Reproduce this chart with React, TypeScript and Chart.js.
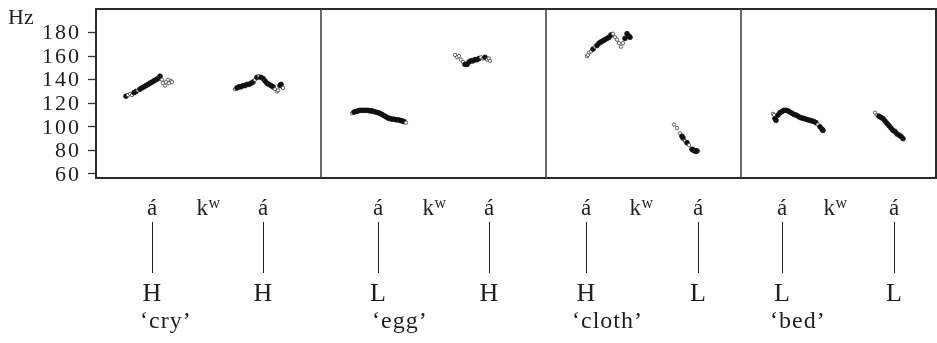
import { useEffect, useRef } from "react";
import { Chart, registerables } from "chart.js";

Chart.register(...registerables);

// ---- Data (x in time units along the joined panels, y in Hz) ----
const panelBounds = [225, 450, 645];
const yTicks = [60, 80, 100, 120, 140, 160, 180];

const cryV1T = [30, 32, 34, 36, 38, 40, 42, 44, 46, 48, 50, 52, 54, 56, 58, 60, 62, 64, 66, 67, 69, 70, 72, 73, 75, 76];
const cryV1Hz = [126, 127, 128, 127, 129, 130, 131, 132, 133, 134, 135, 136, 137, 138, 139, 140, 141, 143, 140, 137, 135, 138, 140, 137, 139, 138];
const cryV1Open = [0, 1, 1, 1, 0, 0, 1, 0, 0, 0, 0, 0, 0, 0, 0, 0, 0, 0, 1, 1, 1, 1, 1, 1, 1, 1];

const cryV2T = [139, 141, 143, 145, 147, 149, 151, 153, 155, 157, 159, 161, 163, 165, 167, 169, 171, 173, 175, 177, 179, 181, 182, 184, 185, 187];
const cryV2Hz = [132, 133, 134, 134, 135, 135, 136, 136, 137, 138, 140, 142, 143, 142, 141, 139, 137, 136, 135, 134, 132, 130, 131, 135, 136, 133];
const cryV2Open = [1, 0, 0, 0, 0, 0, 0, 0, 0, 0, 1, 0, 1, 0, 0, 0, 0, 0, 0, 0, 1, 1, 1, 0, 0, 1];

const eggV1T = [256, 258, 260, 262, 264, 266, 268, 270, 272, 274, 276, 278, 280, 282, 284, 286, 288, 290, 292, 294, 296, 298, 300, 302, 304, 306, 308, 310];
const eggV1Hz = [111.5, 112.5, 113, 113.5, 114, 114, 114, 114, 114, 113.5, 113.5, 113, 112.5, 112, 111.5, 110.5, 109.5, 108.5, 107.5, 107, 106.5, 106.5, 106, 106, 105.5, 105, 104.5, 103.5];
const eggV1Open = [1, 0, 0, 0, 0, 0, 0, 0, 0, 0, 0, 0, 0, 0, 0, 0, 0, 0, 0, 0, 0, 0, 0, 0, 0, 0, 0, 1];

const eggV2T = [359, 361, 363, 365, 367, 369, 371, 373, 375, 377, 379, 381, 383, 385, 387, 389, 391, 393, 394];
const eggV2Hz = [161, 159, 160, 157, 155, 153, 153, 155, 156, 156, 157, 157, 158, 159, 158, 159, 157, 158, 156];
const eggV2Open = [1, 1, 1, 1, 1, 0, 0, 0, 0, 0, 0, 0, 0, 1, 1, 0, 1, 1, 1];

const clothV1T = [491, 492, 493, 495, 497, 499, 501, 503, 505, 507, 509, 511, 513, 515, 517, 519, 521, 523, 525, 527, 529, 531, 533, 534];
const clothV1Hz = [160, 161, 163, 164, 166, 168, 169, 171, 172, 173, 174, 175, 176, 178, 179, 176, 174, 171, 168, 171, 175, 179, 177, 176];
const clothV1Open = [1, 1, 1, 1, 0, 1, 0, 0, 0, 0, 0, 0, 0, 0, 1, 1, 1, 1, 1, 1, 0, 0, 0, 0];

const clothV2T = [578, 581, 584, 586, 587, 589, 591, 593, 596, 597, 598, 599, 600, 601];
const clothV2Hz = [102, 99, 94.5, 92, 90.5, 88, 86.5, 84.5, 81, 80.5, 80, 79.5, 79.5, 79.5];
const clothV2Open = [1, 1, 1, 0, 0, 1, 0, 1, 0, 0, 0, 0, 0, 0];

const bedV1T = [677, 678, 679, 680, 682, 684, 686, 688, 690, 692, 694, 696, 698, 700, 702, 704, 706, 708, 710, 712, 714, 716, 718, 720, 722, 724, 726, 727];
const bedV1Hz = [111, 110, 107, 105.5, 110, 112, 113, 114, 114, 113.5, 112.5, 111.5, 110.5, 110, 109, 108, 107.5, 107, 106.5, 106, 105.5, 105, 104.5, 103.5, 102, 100, 98, 97];
const bedV1Open = [1, 1, 0, 0, 0, 0, 0, 0, 0, 0, 0, 0, 0, 0, 0, 0, 0, 0, 0, 0, 0, 0, 0, 0, 1, 0, 0, 0];

const bedV2T = [779, 781, 783, 785, 787, 789, 791, 793, 795, 797, 799, 801, 803, 805, 807];
const bedV2Hz = [112, 110, 109, 108, 107, 105, 103, 101, 99, 97, 96, 94, 93, 92, 90];
const bedV2Open = [1, 1, 0, 0, 0, 0, 0, 0, 0, 0, 0, 0, 0, 0, 0];

// ---- Annotation rows ----
const vowelX = [56, 167, 282, 393, 490, 602, 686, 798];
const vowelLabels = ["á", "á", "á", "á", "á", "á", "á", "á"];
const toneLabels = ["H", "H", "L", "H", "H", "L", "L", "L"];
const consonantX = [112, 338, 545, 739];
const glossX = [44, 276, 476, 674];
const glossLabels = ["‘cry’", "‘egg’", "‘cloth’", "‘bed’"];

const SERIF = "'Liberation Serif', 'DejaVu Serif', serif";
const INK = "#1e1e1e";

function segment(t: number[], hz: number[], open: number[]) {
  return {
    data: t.map((x, i) => ({ x, y: hz[i] })),
    showLine: false,
    pointStyle: "circle",
    pointRadius: open.map((o) => (o ? 1.7 : 2.4)),
    pointBackgroundColor: open.map((o) => (o ? "#ffffff" : "#111111")),
    pointBorderColor: open.map((o) => (o ? "#555555" : "#111111")),
    pointBorderWidth: open.map((o) => (o ? 0.9 : 0.8)),
  };
}

const framePlugin = {
  id: "framePlugin",
  afterDatasetsDraw(chart: any) {
    const { ctx, chartArea: a, scales } = chart;
    const xs = scales.x;
    ctx.save();
    ctx.strokeStyle = "#2a2a2a";
    ctx.lineWidth = 2;
    ctx.strokeRect(a.left, a.top, a.right - a.left, a.bottom - a.top);
    ctx.strokeStyle = "#444";
    ctx.lineWidth = 1.6;
    panelBounds.forEach((b) => {
      const px = xs.getPixelForValue(b);
      ctx.beginPath();
      ctx.moveTo(px, a.top);
      ctx.lineTo(px, a.bottom);
      ctx.stroke();
    });
    ctx.restore();
  },
  afterDraw(chart: any) {
    const { ctx, scales } = chart;
    const xs = scales.x;
    const ys = scales.y;
    ctx.save();
    ctx.fillStyle = INK;
    ctx.strokeStyle = INK;
    // Hz unit label
    ctx.font = `22px ${SERIF}`;
    ctx.textAlign = "left";
    ctx.textBaseline = "alphabetic";
    ctx.fillText("Hz", 8, 24);

    // y tick labels (positions from the y scale)
    ctx.save();
    ctx.font = `22px ${SERIF}`;
    (ctx as any).letterSpacing = "2px";
    ctx.textAlign = "right";
    ctx.textBaseline = "middle";
    yTicks.forEach((v) => {
      ctx.fillText(String(v), ys.left + ys.width - 15, ys.getPixelForValue(v) + 1);
    });
    ctx.restore();

    // vowels, association lines, tones
    vowelX.forEach((v, i) => {
      const px = xs.getPixelForValue(v);
      ctx.textAlign = "center";
      ctx.font = `23px ${SERIF}`;
      ctx.fillText(vowelLabels[i], px, 215);
      ctx.lineWidth = 1;
      ctx.beginPath();
      ctx.moveTo(Math.round(px) + 0.5, 222);
      ctx.lineTo(Math.round(px) + 0.5, 273);
      ctx.stroke();
      ctx.font = `26px ${SERIF}`;
      ctx.fillText(toneLabels[i], px, 301);
    });

    // labialised velar k + superscript w
    consonantX.forEach((c) => {
      const px = xs.getPixelForValue(c);
      ctx.font = `23px ${SERIF}`;
      const wk = ctx.measureText("k").width;
      ctx.font = `16px ${SERIF}`;
      const ww = ctx.measureText("w").width;
      const start = px - (wk + ww) / 2;
      ctx.textAlign = "left";
      ctx.font = `23px ${SERIF}`;
      ctx.fillText("k", start, 215);
      ctx.font = `16px ${SERIF}`;
      ctx.fillText("w", start + wk + 0.5, 208);
    });

    // glosses
    ctx.font = `24px ${SERIF}`;
    ctx.textAlign = "left";
    (ctx as any).letterSpacing = "1px";
    glossX.forEach((g, i) => {
      const px = xs.getPixelForValue(g);
      ctx.fillText(glossLabels[i], px, 328);
    });
    ctx.restore();
  },
};

export default function App() {
  const ref = useRef<HTMLCanvasElement | null>(null);
  useEffect(() => {
    if (!ref.current) return;
    const chart = new Chart(ref.current, {
      type: "scatter",
      data: {
        datasets: [
          segment(cryV1T, cryV1Hz, cryV1Open),
          segment(cryV2T, cryV2Hz, cryV2Open),
          segment(eggV1T, eggV1Hz, eggV1Open),
          segment(eggV2T, eggV2Hz, eggV2Open),
          segment(clothV1T, clothV1Hz, clothV1Open),
          segment(clothV2T, clothV2Hz, clothV2Open),
          segment(bedV1T, bedV1Hz, bedV1Open),
          segment(bedV2T, bedV2Hz, bedV2Open),
        ] as any,
      },
      options: {
        animation: false,
        responsive: true,
        maintainAspectRatio: false,
        layout: { autoPadding: false, padding: { left: 0, top: 9, right: 1, bottom: 165 } },
        plugins: { legend: { display: false }, tooltip: { enabled: false } },
        scales: {
          x: { type: "linear", min: 0, max: 840, display: false },
          y: {
            type: "linear",
            min: 56.6,
            max: 200,
            afterBuildTicks: (scale: any) => {
              scale.ticks = yTicks.map((v) => ({ value: v }));
            },
            afterFit: (scale: any) => {
              scale.width = 96;
              scale.paddingTop = 0;
              scale.paddingBottom = 0;
              scale.paddingLeft = 0;
              scale.paddingRight = 0;
            },
            border: { display: false },
            grid: {
              drawOnChartArea: false,
              drawTicks: true,
              tickLength: 8,
              tickColor: "#333",
              tickWidth: 1.3,
            },
            ticks: { display: false, autoSkip: false },
          },
        },
      },
      plugins: [framePlugin],
    });
    return () => chart.destroy();
  }, []);
  return (
    <div style={{ position: "absolute", left: 0, top: 0, width: 937, height: 343, background: "#fff" }}>
      <canvas ref={ref} />
    </div>
  );
}
